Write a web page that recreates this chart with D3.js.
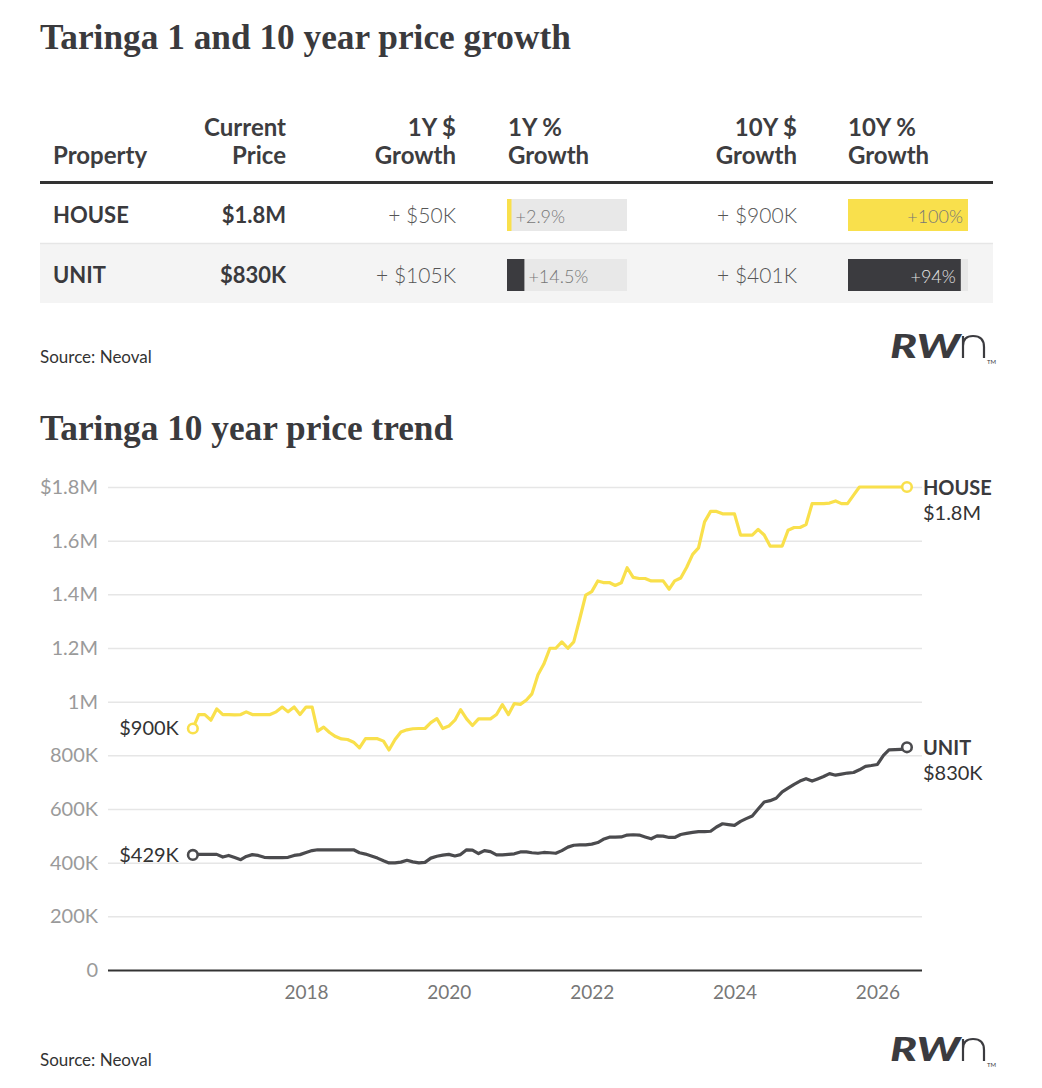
<!DOCTYPE html>
<html>
<head>
<meta charset="utf-8">
<script src="https://cdn.jsdelivr.net/npm/d3@7"></script>
<style>
  body { margin: 0; background: #fff; }
  svg { display: block; font-family: Lato, "Noto Sans", sans-serif; }
</style>
</head>
<body>
<div id="chart"></div>
<script>
// table data
const properties = ["HOUSE", "UNIT"];
const currentPrice = ["$1.8M", "$830K"];
const growth1yDollar = ["+ $50K", "+ $105K"];
const growth1yPct = [2.9, 14.5];
const growth10yDollar = ["+ $900K", "+ $401K"];
const growth10yPct = [100, 94];

// monthly median prices ($K), June 2016 to June 2026
const housePrices = [
  900, 952, 952, 931, 973, 952, 952, 951, 952, 962,
  952, 952, 952, 952, 962, 980, 962, 980, 952, 980,
  980, 890, 905, 885, 870, 861, 859, 849, 828, 862,
  862, 862, 853, 820, 859, 887, 895, 899, 900, 900,
  922, 937, 900, 909, 931, 970, 936, 911, 936, 936,
  936, 952, 989, 952, 993, 990, 1006, 1029, 1100, 1140,
  1199, 1199, 1223, 1199, 1223, 1310, 1397, 1410, 1450, 1444,
  1444, 1433, 1443, 1499, 1463, 1459, 1459, 1450, 1450, 1450,
  1419, 1450, 1461, 1500, 1549, 1573, 1670, 1709, 1709, 1700,
  1700, 1700, 1621, 1621, 1621, 1642, 1621, 1580, 1580, 1580,
  1639, 1649, 1649, 1660, 1738, 1738, 1738, 1740, 1748, 1738,
  1738, 1770, 1800, 1800, 1800, 1800, 1800, 1800, 1800, 1800, 1800
];
const unitPrices = [
  429, 431, 431, 431, 431, 421, 427, 419, 411, 423,
  430, 427, 420, 419, 419, 419, 420, 427, 430, 438,
  445, 448, 448, 448, 448, 448, 448, 448, 437, 432,
  425, 417, 407, 399, 399, 402, 409, 403, 399, 401,
  417, 424, 428, 431, 425, 430, 448, 447, 434, 445,
  441, 429, 429, 431, 433, 440, 440, 437, 435, 438,
  437, 435, 445, 458, 465, 466, 466, 469, 475, 487,
  495, 495, 496, 503, 504, 503, 496, 489, 500, 499,
  494, 494, 505, 509, 513, 516, 516, 517, 533, 545,
  542, 539, 554, 564, 574, 600, 626, 631, 640, 664,
  678, 692, 704, 713, 704, 712, 721, 732, 726, 730,
  734, 736, 746, 759, 762, 766, 800, 820, 821, 822, 830
];
const startLabels = ["$900K", "$429K"];
const endLabels = ["$1.8M", "$830K"];

const yTicks = [0, 200, 400, 600, 800, 1000, 1200, 1400, 1600, 1800];
const yTickLabels = ["0", "200K", "400K", "600K", "800K", "1M", "1.2M", "1.4M", "1.6M", "$1.8M"];
const xTickYears = [2018, 2020, 2022, 2024, 2026];

const YELLOW = "#f9e04c";
const DARK = "#3b3b3f";
const TEXT = "#3a3a3d";
const SERIF = "'Liberation Serif', 'DejaVu Serif', serif";

const svg = d3.select("#chart").append("svg")
  .attr("width", 1042)
  .attr("height", 1088);

// ---------- table ----------
svg.append("text")
  .attr("x", 40).attr("y", 49)
  .attr("font-family", SERIF)
  .attr("font-weight", 700)
  .attr("font-size", 35.3)
  .attr("fill", TEXT)
  .text("Taringa 1 and 10 year price growth");

const columns = [
  {x: 53, anchor: "start", head: ["", "Property"]},
  {x: 286, anchor: "end", head: ["Current", "Price"]},
  {x: 456, anchor: "end", head: ["1Y $", "Growth"]},
  {x: 508, anchor: "start", head: ["1Y %", "Growth"]},
  {x: 797, anchor: "end", head: ["10Y $", "Growth"]},
  {x: 848, anchor: "start", head: ["10Y %", "Growth"]}
];

const head = svg.append("g").attr("fill", "#3d3d40")
  .attr("font-size", 24).attr("font-weight", 700);
columns.forEach(c => {
  c.head.forEach((line, j) => {
    head.append("text")
      .attr("x", c.x).attr("y", 136 + j * 28)
      .attr("text-anchor", c.anchor)
      .text(line);
  });
});

svg.append("line")
  .attr("x1", 40).attr("x2", 993)
  .attr("y1", 182.5).attr("y2", 182.5)
  .attr("stroke", "#333").attr("stroke-width", 3);

const barX = d3.scaleLinear().domain([0, 100]).range([0, 120]);
const colorOf = [YELLOW, DARK];

const rows = svg.append("g");
properties.forEach((p, i) => {
  const top = 184 + i * 60;
  const row = rows.append("g");
  if (i % 2 === 1) {
    row.append("rect")
      .attr("x", 40).attr("y", top - 1)
      .attr("width", 953).attr("height", 60)
      .attr("fill", "#f4f4f4");
    row.append("line")
      .attr("x1", 40).attr("x2", 993)
      .attr("y1", top - 0.5).attr("y2", top - 0.5)
      .attr("stroke", "#e6e6e6").attr("stroke-width", 1.5);
  }
  const base = top + 39;
  row.append("text").attr("x", 53).attr("y", base)
    .attr("font-size", 22).attr("font-weight", 700).attr("fill", TEXT)
    .text(p);
  row.append("text").attr("x", 286).attr("y", base)
    .attr("text-anchor", "end")
    .attr("font-size", 22).attr("font-weight", 700).attr("fill", TEXT)
    .text(currentPrice[i]);
  row.append("text").attr("x", 456).attr("y", base)
    .attr("text-anchor", "end")
    .attr("font-size", 21).attr("font-weight", 300).attr("fill", "#555")
    .text(growth1yDollar[i]);
  row.append("text").attr("x", 797).attr("y", base)
    .attr("text-anchor", "end")
    .attr("font-size", 21).attr("font-weight", 300).attr("fill", "#555")
    .text(growth10yDollar[i]);

  // 1Y % bar, label after the bar
  const w1 = Math.max(barX(growth1yPct[i]), 4.5);
  row.append("rect").attr("x", 507).attr("y", top + 15)
    .attr("width", barX(100)).attr("height", 32).attr("fill", "#e8e8e8");
  row.append("rect").attr("x", 507).attr("y", top + 15)
    .attr("width", w1).attr("height", 32).attr("fill", colorOf[i]);
  row.append("text").attr("x", 507 + w1 + 4).attr("y", base)
    .attr("font-size", 18).attr("font-weight", 300).attr("fill", "#777")
    .text("+" + growth1yPct[i] + "%");

  // 10Y % bar, label inside the bar
  const w10 = barX(growth10yPct[i]);
  row.append("rect").attr("x", 848).attr("y", top + 15)
    .attr("width", barX(100)).attr("height", 32).attr("fill", "#e8e8e8");
  row.append("rect").attr("x", 848).attr("y", top + 15)
    .attr("width", w10).attr("height", 32).attr("fill", colorOf[i]);
  row.append("text").attr("x", 848 + w10 - 5).attr("y", base)
    .attr("text-anchor", "end")
    .attr("font-size", 18).attr("font-weight", 300)
    .attr("fill", i === 0 ? "#777" : "#e4e4e4")
    .text("+" + growth10yPct[i] + "%");
});

function footer(baseline) {
  svg.append("text")
    .attr("x", 40).attr("y", baseline)
    .attr("font-size", 17).attr("fill", "#333")
    .text("Source: Neoval");
  const logo = svg.append("g").attr("transform", `translate(890,${baseline - 5})`);
  logo.append("text")
    .attr("x", 0).attr("y", 0)
    .attr("font-size", 33).attr("font-weight", 900)
    .attr("font-style", "italic")
    .attr("textLength", 70)
    .attr("lengthAdjust", "spacingAndGlyphs")
    .attr("fill", DARK)
    .text("RW");
  logo.append("path")
    .attr("d", "M73,0 V-22 M73,-12 Q73,-22 83,-22 Q94,-22 94,-11 V0")
    .attr("fill", "none").attr("stroke", DARK).attr("stroke-width", 2.2);
  logo.append("text")
    .attr("x", 97).attr("y", 6)
    .attr("font-size", 6).attr("fill", DARK)
    .text("TM");
}
footer(363);

// ---------- line chart ----------
svg.append("text")
  .attr("x", 40).attr("y", 440)
  .attr("font-family", SERIF)
  .attr("font-weight", 700)
  .attr("font-size", 35.3)
  .attr("fill", TEXT)
  .text("Taringa 10 year price trend");

const dates = housePrices.map((d, i) => new Date(2016, 5 + i, 1));

const x = d3.scaleTime()
  .domain([new Date(2015, 2, 25), new Date(2026, 7, 17)])
  .range([108, 922]);
const y = d3.scaleLinear()
  .domain([0, 1800])
  .range([970, 487]);

const yAxis = svg.append("g")
  .attr("transform", "translate(108,0)")
  .call(d3.axisLeft(y)
    .tickValues(yTicks)
    .tickSize(-(922 - 108))
    .tickPadding(10)
    .tickFormat((d, i) => yTickLabels[i]));
yAxis.select(".domain").remove();
yAxis.selectAll(".tick line")
  .attr("stroke", d => d === 0 ? "#333" : "#e6e6e6")
  .attr("stroke-width", d => d === 0 ? 2 : 1.5);
yAxis.selectAll(".tick text")
  .attr("fill", "#9a9a9a")
  .attr("font-size", 20)
  .attr("font-family", "Lato, sans-serif");

const xAxis = svg.append("g")
  .attr("transform", "translate(0,970)")
  .call(d3.axisBottom(x)
    .tickValues(xTickYears.map(yr => new Date(yr, 0, 1)))
    .tickSize(0)
    .tickPadding(16)
    .tickFormat(d3.timeFormat("%Y")));
xAxis.select(".domain").remove();
xAxis.selectAll(".tick text")
  .attr("fill", "#777")
  .attr("font-size", 19)
  .attr("font-family", "Lato, sans-serif");

const line = d3.line()
  .x((d, i) => x(dates[i]))
  .y(d => y(d));

const series = [
  {name: "HOUSE", values: housePrices, color: YELLOW},
  {name: "UNIT", values: unitPrices, color: "#4b4b4e"}
];

series.forEach((s, k) => {
  svg.append("path")
    .datum(s.values)
    .attr("d", line)
    .attr("fill", "none")
    .attr("stroke", s.color)
    .attr("stroke-width", 3.2)
    .attr("stroke-linejoin", "round");

  const last = s.values.length - 1;
  [0, last].forEach(i => {
    svg.append("circle")
      .attr("cx", x(dates[i])).attr("cy", y(s.values[i]))
      .attr("r", 4.8)
      .attr("fill", "#fff")
      .attr("stroke", s.color)
      .attr("stroke-width", 2.6);
  });

  svg.append("text")
    .attr("x", x(dates[0]) - 14).attr("y", y(s.values[0]))
    .attr("dy", "0.34em")
    .attr("text-anchor", "end")
    .attr("font-size", 20).attr("fill", "#333")
    .text(startLabels[k]);

  const ex = x(dates[last]) + 16;
  const ey = y(s.values[last]);
  svg.append("text")
    .attr("x", ex).attr("y", ey + 8)
    .attr("font-size", 20).attr("font-weight", 700).attr("fill", TEXT)
    .text(s.name);
  svg.append("text")
    .attr("x", ex).attr("y", ey + 33)
    .attr("font-size", 20).attr("fill", "#333")
    .text(endLabels[k]);
});

footer(1066);
</script>
</body>
</html>
